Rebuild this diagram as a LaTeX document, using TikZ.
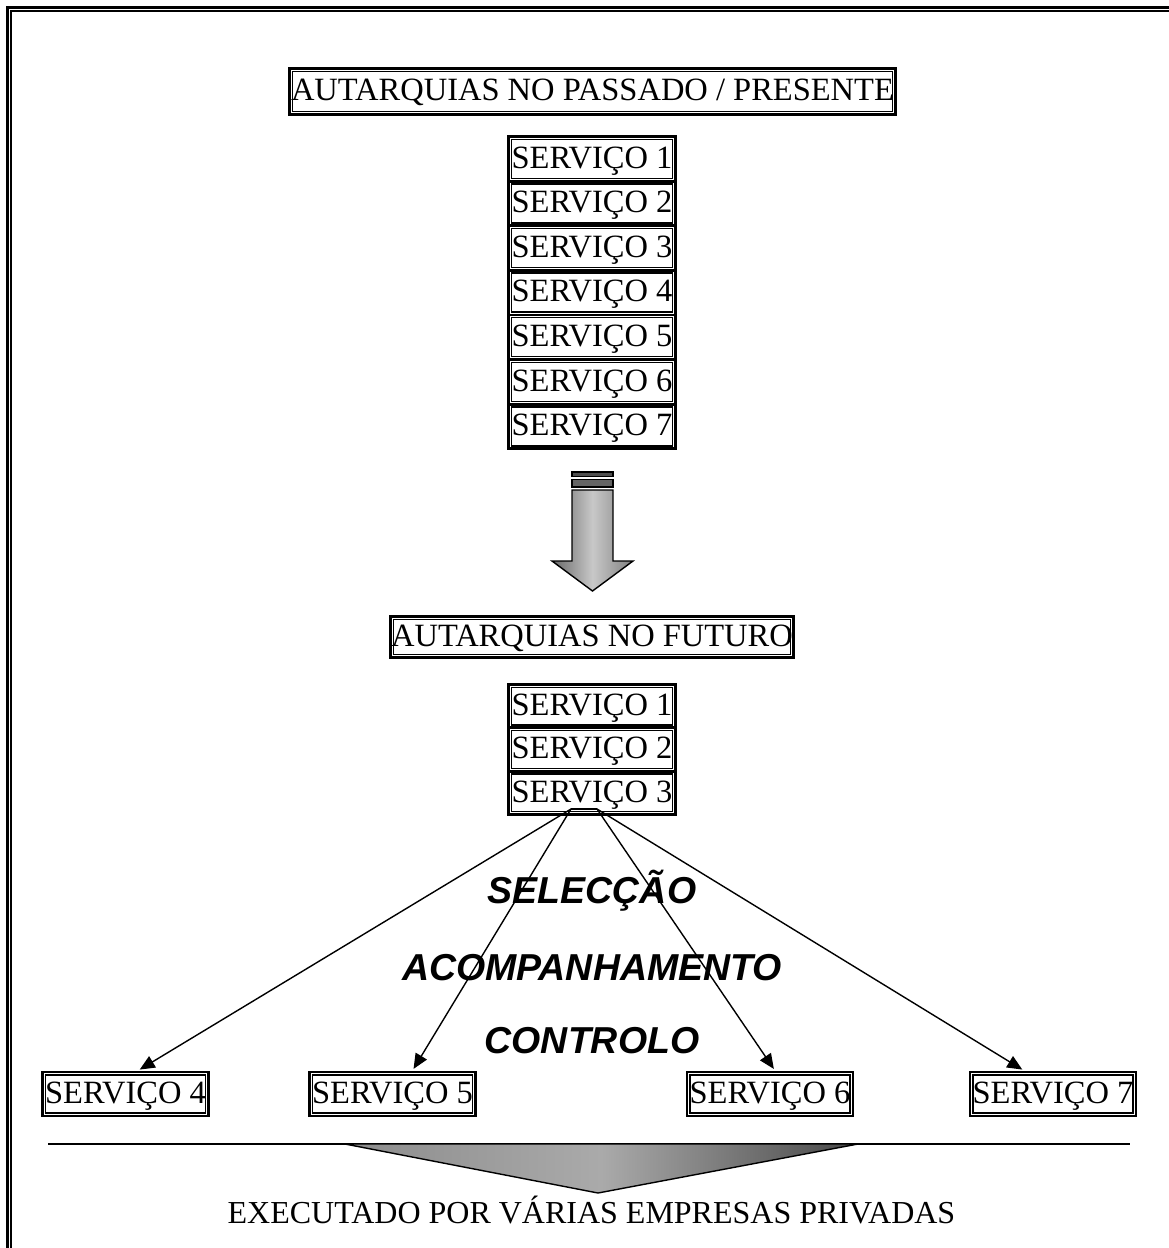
\documentclass[tikz,border=0pt]{standalone}
\usepackage{fontspec}
\setmainfont{Liberation Serif}
\newfontfamily\labelsans{Liberation Sans}
\usetikzlibrary{arrows.meta}

\definecolor{arrowedge}{RGB}{104,104,104}
\definecolor{arrowmid}{RGB}{200,200,200}
\definecolor{arrowright}{RGB}{128,128,128}
\definecolor{barA}{RGB}{80,80,80}
\definecolor{barB}{RGB}{100,100,100}
\definecolor{wedgeleft}{RGB}{140,140,140}
\definecolor{wedgemid}{RGB}{170,170,170}
\definecolor{wedgeright}{RGB}{72,72,72}

\begin{document}
\begin{tikzpicture}[x=1pt,y=-1pt,
  box/.style={draw, line width=2.8pt, inner sep=0pt,
    font=\fontsize{32.5}{36}\selectfont, text height=21.5pt, text depth=3pt},
  svc/.style={box, minimum width=167pt, minimum height=44.6pt},
  svclow/.style={box, minimum width=167pt, minimum height=43.3pt},
  svcout/.style={box, minimum width=166pt, minimum height=44pt},
  innerline/.style={line width=1.5pt},
  link/.style={line width=1.4pt, -{Triangle[length=15pt,width=13pt]}, shorten >=2pt},
  stage/.style={font=\labelsans\bfseries\itshape\fontsize{37.5}{42}\selectfont, anchor=base, inner sep=0pt},
  plain/.style={font=\fontsize{32}{36}\selectfont, anchor=base, inner sep=0pt},
]
\useasboundingbox (0,0) rectangle (1169,1248);

% page frame (double rule, running off the right and bottom edges)
\begin{scope}
  \clip (0,0) rectangle (1169,1248);
  \draw[line width=3pt] (7.5,1270) |- (1190,7.5);
  \draw[line width=1.5pt] (11,1270) |- (1190,11);
\end{scope}

% present-day organisation
\node[box, minimum width=606pt, minimum height=46pt] (past) at (592.5,91.5) {AUTARQUIAS NO PASSADO / PRESENTE};
\foreach \i in {1,...,7}
  \node[svc] (p\i) at (592,{136.5+44.6*(\i-0.5)}) {SERVIÇO \i};

% transition arrow
\draw[line width=1.4pt, fill=barA] (572,472) rectangle (613,476.5);
\draw[line width=1.4pt, fill=barB] (572,479.5) rectangle (613,487);
\draw[line width=1.4pt, left color=arrowedge, right color=arrowright, middle color=arrowmid]
  (572,490) -- (613,490) -- (613,561) -- (633,561) -- (592.5,591)
  -- (552,561) -- (572,561) -- cycle;

% future organisation
\node[box, minimum width=403pt, minimum height=41pt] (fut) at (592,637) {AUTARQUIAS NO FUTURO};
\foreach \i in {1,2,3}
  \node[svclow] (f\i) at (592,{684.5+43.3*(\i-0.5)}) {SERVIÇO \i};

% outsourced services
\node[svcout] (s4) at (125.5,1094) {SERVIÇO 4};
\node[svcout] (s5) at (392.5,1094) {SERVIÇO 5};
\node[svcout] (s6) at (770,1094) {SERVIÇO 6};
\node[svcout] (s7) at (1053,1094) {SERVIÇO 7};

% inner rule of every double-ruled box
\foreach \n in {past,p1,p2,p3,p4,p5,p6,p7,fut,f1,f2,f3,s4,s5,s6,s7}
  \draw[innerline] ([shift={(4.2,4.2)}]\n.north west) rectangle ([shift={(-4.2,-4.2)}]\n.south east);

% fan of connectors from SERVIÇO 3
\coordinate (fa) at (571,809);
\coordinate (fb) at (597,809);
\draw[line width=1.4pt] (fa) -- (fb);
\draw[link] (fa) -- ([xshift=12.5pt]s4.north);
\draw[link] (fa) -- ([xshift=20pt]s5.north);
\draw[link] (fb) -- ([xshift=5pt]s6.north);
\draw[link] (fb) -- ([xshift=-29pt]s7.north);

% roles kept by the municipality
\node[stage] (sel) at (592,903) {SELECÇÃO};
\node[stage] (aco) at (592,980) {ACOMPANHAMENTO};
\node[stage] (con) at (592,1053) {CONTROLO};

% bottom rule and funnel
\coordinate (ruleL) at (48,1144);
\coordinate (ruleR) at (1130,1144);
\draw[line width=1.5pt] (ruleL) -- (ruleR);
\draw[line width=1.4pt, left color=wedgeleft, right color=wedgeright, middle color=wedgemid]
  (345,1144) -- (858,1144) -- (598,1193) -- cycle;

\node[plain] (exe) at (591.5,1223) {EXECUTADO POR VÁRIAS EMPRESAS PRIVADAS};
\end{tikzpicture}
\end{document}
